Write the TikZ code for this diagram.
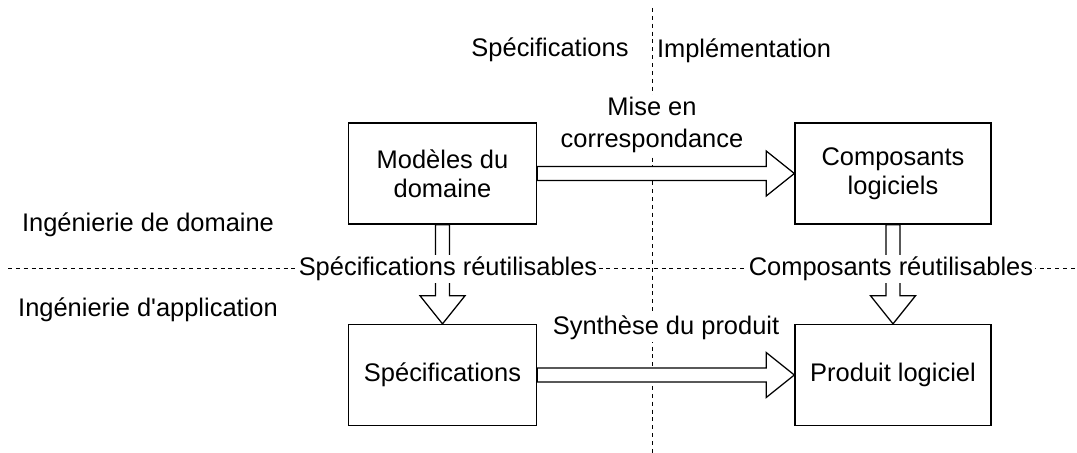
\documentclass[tikz,border=0pt]{standalone}
\usepackage{fontspec}
\setmainfont{Liberation Sans}
\usetikzlibrary{calc}

\begin{document}
\begin{tikzpicture}[x=0.025cm, y=-0.025cm,
	font=\fontsize{18.1}{20.5}\selectfont,
	boite/.style={draw, line width=0.9pt, minimum height=2.525cm, align=center, inner sep=0pt},
	fleche/.style={draw, fill=white, line width=0.9pt, line join=miter},
	etiquette/.style={fill=white, inner sep=1.5pt, align=center},
	tirets/.style={line width=0.7pt, dash pattern=on 2.8pt off 2.8pt}]

		\useasboundingbox (0,0) rectangle (1077,453);

		% Lignes de séparation
		\draw[tirets] (652,8) -- (652,453);
		\draw[tirets] (8,268) -- (1077,268);

		% Les boîtes
		\node[boite, minimum width=4.7cm] (mod) at (442.5,173.5) {Modèles du\\domaine};
		\node[boite, minimum width=4.9cm] (comp) at (893,173.5) {Composants\\logiciels};
		\node[boite, minimum width=4.7cm] (spec) at (442.5,375) {Spécifications};
		\node[boite, minimum width=4.9cm] (prod) at (893,375) {Produit logiciel};

		% Flèches creuses
		\def\sw{5pt}
		\def\hw{16pt}
		\def\hl{20pt}

		\draw[fleche] let \p1=(mod.east), \p2=(comp.west) in
			(\x1,\y1+\sw) -- (\x2-\hl,\y1+\sw) -- (\x2-\hl,\y1+\hw) -- (\x2,\y1)
			-- (\x2-\hl,\y1-\hw) -- (\x2-\hl,\y1-\sw) -- (\x1,\y1-\sw) -- cycle;
		\draw[fleche] let \p1=(spec.east), \p2=(prod.west) in
			(\x1,\y1+\sw) -- (\x2-\hl,\y1+\sw) -- (\x2-\hl,\y1+\hw) -- (\x2,\y1)
			-- (\x2-\hl,\y1-\hw) -- (\x2-\hl,\y1-\sw) -- (\x1,\y1-\sw) -- cycle;

		\draw[fleche] let \p1=(mod.south), \p2=(spec.north) in
			(\x1-\sw,\y1) -- (\x1-\sw,\y2+\hl) -- (\x1-\hw,\y2+\hl) -- (\x1,\y2)
			-- (\x1+\hw,\y2+\hl) -- (\x1+\sw,\y2+\hl) -- (\x1+\sw,\y1) -- cycle;
		\draw[fleche] let \p1=(comp.south), \p2=(prod.north) in
			(\x1-\sw,\y1) -- (\x1-\sw,\y2+\hl) -- (\x1-\hw,\y2+\hl) -- (\x1,\y2)
			-- (\x1+\hw,\y2+\hl) -- (\x1+\sw,\y2+\hl) -- (\x1+\sw,\y1) -- cycle;

		% Etiquettes des flèches
		\node[etiquette] (corresp) at (652,125) {Mise en\\[2.5pt]correspondance};
		\node[etiquette] (synth) at (666,328) {Synthèse du produit};
		\node[etiquette] (specreut) at (448,269) {Spécifications réutilisables};
		\node[etiquette] (compreut) at (891,269) {Composants réutilisables};

		% Titres des zones
		\node (tspec) at (550,50) {Spécifications};
		\node (timpl) at (744,51) {Implémentation};
		\node (tdom) at (148,225) {Ingénierie de domaine};
		\node (tapp) at (148,310) {Ingénierie d\textquotesingle application};

\end{tikzpicture}
\end{document}
